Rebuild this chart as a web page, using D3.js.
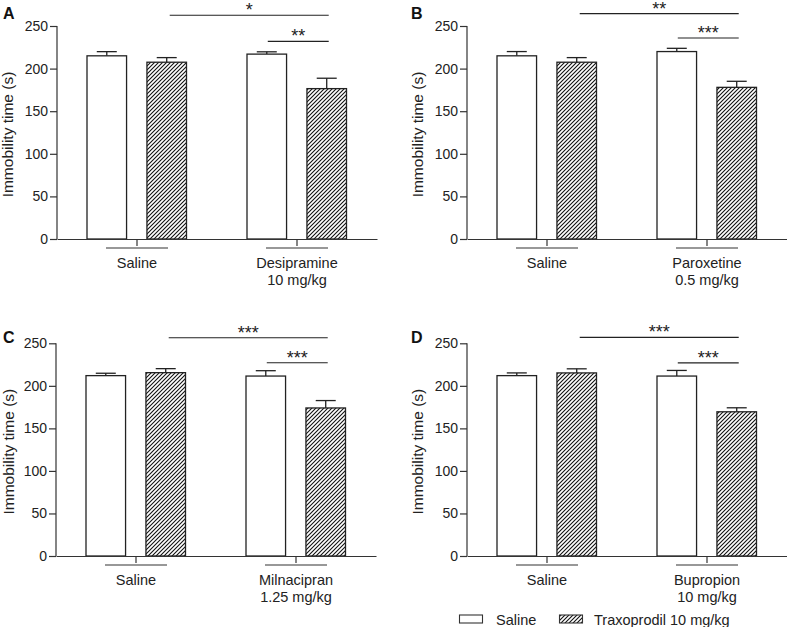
<!DOCTYPE html>
<html>
<head>
<meta charset="utf-8">
<script src="https://cdn.jsdelivr.net/npm/d3@7"></script>
<style>
  body { margin: 0; background: #fff; }
  svg { font-family: "Liberation Sans", Arial, Helvetica, sans-serif; }
  .axis path, .axis line { stroke: #333; stroke-width: 1.2; }
  .axis text { fill: #222; font-size: 14px; }
  .ylabel { font-size: 15.5px; fill: #222; }
  .letter { font-size: 16px; font-weight: bold; fill: #111; }
  .star { font-size: 18px; fill: #222; }
  .legend text { font-size: 14.5px; fill: #222; }
</style>
</head>
<body>
<svg id="chart" width="787" height="627"></svg>
<script>
// data (immobility time, s)
var panelIds   = ["A", "B", "C", "D"];
var groups     = ["Saline", "Drug"];
var drugLabels = [["Desipramine", "10 mg/kg"], ["Paroxetine", "0.5 mg/kg"],
                  ["Milnacipran", "1.25 mg/kg"], ["Bupropion", "10 mg/kg"]];
var series     = ["Saline", "Traxoprodil 10 mg/kg"];
var yTicks     = [0, 50, 100, 150, 200, 250];

// per panel: [saline group, drug group]
var meanSaline = [[215, 217], [215, 220], [212, 211.5], [212, 211.5]];
var semSaline  = [[4.9, 2.7], [5, 3.8], [2.8, 6.3], [3.2, 6.6]];
var meanTraxo  = [[207.5, 176.5], [207.5, 178], [215.5, 174], [215.2, 169.5]];
var semTraxo   = [[5.4, 12.2], [5.4, 7.1], [4.7, 8.7], [4.8, 4.7]];

// significance marks: top = traxoprodil vs drug+traxoprodil, inner = drug vs drug+traxoprodil
var sigTop     = ["*", "**", "***", "***"];
var sigInner   = ["**", "***", "***", "***"];
var sigTopAt   = [262.6, 264.5, 256.6, 257];
var sigInnerAt = [232, 236, 227.2, 227];

// panel placement (axis origin in page pixels)
var layout = [
  {x: 57,  y0: 239, y1: 26,    lx: 3,   ly: 18.5, yl: -44},
  {x: 467, y0: 239, y1: 26,    lx: 411, ly: 18.5, yl: -44},
  {x: 56,  y0: 556, y1: 343.3, lx: 3,   ly: 343,  yl: -42},
  {x: 467, y0: 556, y1: 343.3, lx: 411, ly: 343,  yl: -44}
];

var svg = d3.select("#chart");

// hatch pattern ///
var defs = svg.append("defs");
var pat = defs.append("pattern")
    .attr("id", "hatch")
    .attr("patternUnits", "userSpaceOnUse")
    .attr("width", 4).attr("height", 4);
pat.append("rect").attr("width", 4).attr("height", 4).attr("fill", "#fff");
pat.append("path")
    .attr("d", "M-1,1 l2,-2 M0,4 l4,-4 M3,5 l2,-2")
    .attr("stroke", "#111").attr("stroke-width", 1.1);

var xGroup = d3.scaleBand().domain(groups).range([0, 320]);
var xInner = d3.scaleBand().domain(series).range([30, 129.5]).paddingInner(0.34);

panelIds.forEach(function(id, i) {
  var L = layout[i];
  var g = svg.append("g").attr("transform", "translate(" + L.x + ",0)");
  var y = d3.scaleLinear().domain([0, 250]).range([L.y0, L.y1]);

  var rows = [];
  groups.forEach(function(gr, j) {
    rows.push({group: gr, s: series[0], v: meanSaline[i][j], e: semSaline[i][j]});
    rows.push({group: gr, s: series[1], v: meanTraxo[i][j], e: semTraxo[i][j]});
  });
  var bx = function(d) { return xGroup(d.group) + xInner(d.s); };
  var bw = xInner.bandwidth();

  // error bars (upper only)
  var eb = g.append("g").attr("stroke", "#222").attr("stroke-width", 1.3);
  eb.selectAll(".ev").data(rows).enter().append("line")
      .attr("x1", function(d) { return bx(d) + bw / 2; })
      .attr("x2", function(d) { return bx(d) + bw / 2; })
      .attr("y1", function(d) { return y(d.v); })
      .attr("y2", function(d) { return y(d.v + d.e); });
  eb.selectAll(".ec").data(rows).enter().append("line")
      .attr("x1", function(d) { return bx(d) + bw / 2 - 10; })
      .attr("x2", function(d) { return bx(d) + bw / 2 + 10; })
      .attr("y1", function(d) { return y(d.v + d.e); })
      .attr("y2", function(d) { return y(d.v + d.e); });

  // bars
  g.selectAll(".bar").data(rows).enter().append("rect")
      .attr("x", bx)
      .attr("y", function(d) { return y(d.v); })
      .attr("width", bw)
      .attr("height", function(d) { return y(0) - y(d.v); })
      .attr("fill", function(d) { return d.s === series[0] ? "#fff" : "url(#hatch)"; })
      .attr("stroke", "#222")
      .attr("stroke-width", 1.3);

  // y axis
  var ya = g.append("g")
      .attr("class", "axis")
      .call(d3.axisLeft(y).tickValues(yTicks).tickSize(7).tickSizeOuter(0).tickPadding(2));
  ya.select(".domain").attr("d", "M0," + y(250) + "V" + y(0));

  // x axis with group ticks, underline and two-line labels
  var xa = g.append("g")
      .attr("class", "axis")
      .attr("transform", "translate(0," + L.y0 + ")")
      .call(d3.axisBottom(xGroup).tickSize(7).tickSizeOuter(0));
  xa.selectAll(".tick").append("line")
      .attr("x1", -31).attr("x2", 31)
      .attr("y1", 9).attr("y2", 9);
  xa.selectAll(".tick text")
      .attr("y", 29).attr("dy", null)
      .style("font-size", "14.5px")
      .text(null)
      .each(function(d) {
        var lines = d === "Saline" ? ["Saline"] : drugLabels[i];
        var t = d3.select(this);
        lines.forEach(function(s, k) {
          t.append("tspan").attr("x", 0).attr("dy", k ? 17 : 0).text(s);
        });
      });

  // y label
  g.append("text")
      .attr("class", "ylabel")
      .attr("transform", "translate(" + L.yl + "," + ((L.y0 + L.y1) / 2 + 2) + ") rotate(-90)")
      .attr("text-anchor", "middle")
      .text("Immobility time (s)");

  // significance lines
  var cx = function(gr, s) { return xGroup(gr) + xInner(s) + bw / 2; };
  var sig = [
    {x1: cx("Saline", series[1]) + 3, x2: cx("Drug", series[1]) + 2, v: sigTopAt[i], t: sigTop[i]},
    {x1: cx("Drug", series[0]) + 1,   x2: cx("Drug", series[1]) + 2, v: sigInnerAt[i], t: sigInner[i]}
  ];
  sig.forEach(function(s) {
    g.append("line")
        .attr("x1", s.x1).attr("x2", s.x2)
        .attr("y1", y(s.v)).attr("y2", y(s.v))
        .attr("stroke", "#222").attr("stroke-width", 1.1);
    g.append("text")
        .attr("class", "star")
        .attr("x", (s.x1 + s.x2) / 2)
        .attr("y", y(s.v) + 1)
        .attr("text-anchor", "middle")
        .text(s.t);
  });

  // panel letter
  svg.append("text")
      .attr("class", "letter")
      .attr("x", L.lx).attr("y", L.ly)
      .text(id);
});

// legend
var lg = svg.append("g").attr("class", "legend");
var lgX = [459.5, 559.5], lgT = [496, 594];
series.forEach(function(s, k) {
  lg.append("rect")
      .attr("x", lgX[k]).attr("y", 615)
      .attr("width", 23).attr("height", 8)
      .attr("fill", k ? "url(#hatch)" : "#fff")
      .attr("stroke", "#333").attr("stroke-width", 1.1);
  lg.append("text").attr("x", lgT[k]).attr("y", 625).text(s);
});
</script>
</body>
</html>
